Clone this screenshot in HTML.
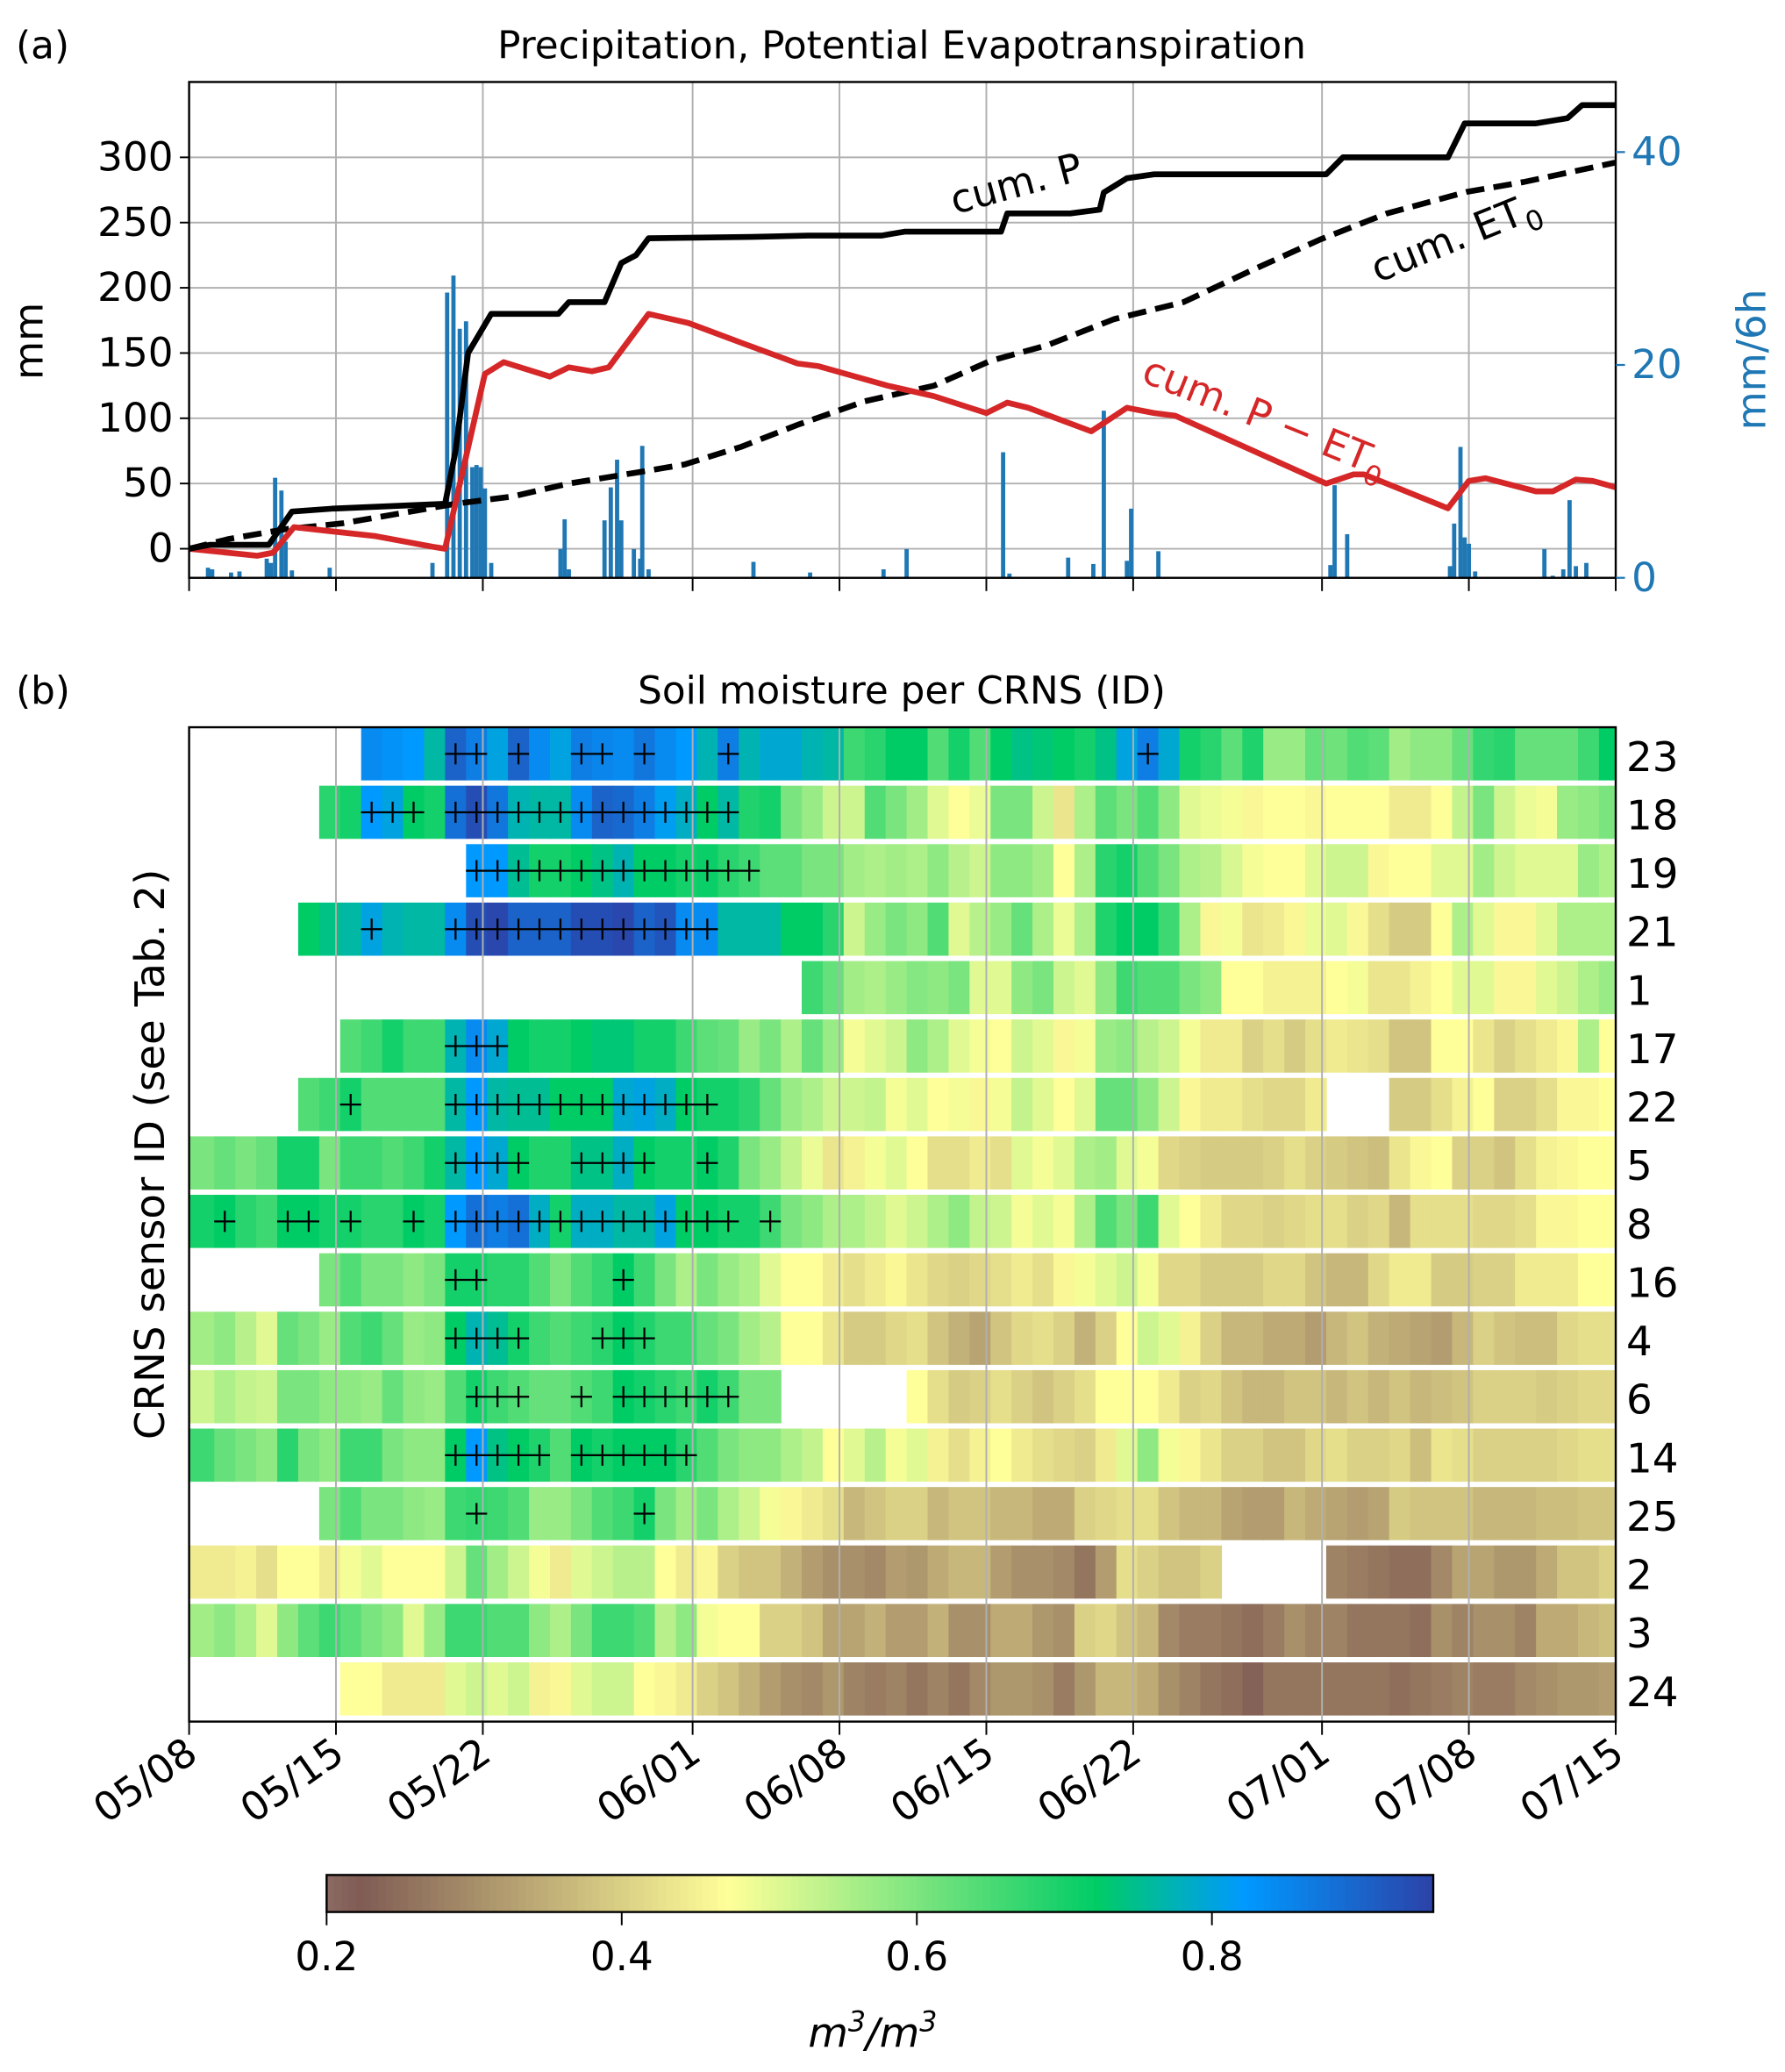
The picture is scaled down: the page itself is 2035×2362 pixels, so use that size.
<!DOCTYPE html>
<html><head><meta charset="utf-8"><style>
html,body{margin:0;padding:0;background:#fff}
svg{display:block;font-family:"DejaVu Sans","Liberation Sans",sans-serif}
</style></head><body>
<svg id="fig" width="2035" height="2362" viewBox="0 0 1350 1567" xmlns="http://www.w3.org/2000/svg">
<rect width="1350" height="1567" fill="#fff"/>
<g id="pa">
 <text x="12" y="44" font-size="29">(a)</text>
 <text x="682" y="44" font-size="29" text-anchor="middle">Precipitation, Potential Evapotranspiration</text>
 <g id="pagrid"></g><g id="pabars"></g><g id="palines"></g><g id="paaxes"></g>
 <text transform="translate(32,258) rotate(-90)" font-size="30" text-anchor="middle">mm</text>
 <text transform="translate(1335,272) rotate(-90)" font-size="30" fill="#1f77b4" text-anchor="middle">mm/6h</text>
 <text transform="translate(722,162) rotate(-15)" font-size="30">cum. P</text>
 <text transform="translate(1042,214) rotate(-22)" font-size="30">cum. ET<tspan font-size="21" dy="8">0</tspan></text>
 <text transform="translate(862,288) rotate(22)" font-size="30" fill="#d62728">cum. P − ET<tspan font-size="21" dy="8">0</tspan></text>
</g>
<g id="pb">
 <text x="12" y="532" font-size="29">(b)</text>
 <text x="682" y="532" font-size="29" text-anchor="middle">Soil moisture per CRNS (ID)</text>
 <text transform="translate(124,873) rotate(-90)" font-size="31" text-anchor="middle">CRNS sensor ID (see Tab. 2)</text>
 <g id="pbcells"></g><g id="pbgrid"></g><g id="pbcross"></g><g id="pbaxes"></g>
 <g id="cbar"></g>
 <text x="660" y="1548" font-size="31" font-style="italic" text-anchor="middle">m<tspan font-size="21" dy="-12">3</tspan><tspan dy="12">/m</tspan><tspan font-size="21" dy="-12">3</tspan></text>
</g>
</svg>
<script>
const dateLabels=["05/08","05/15","05/22","06/01","06/08","06/15","06/22","07/01","07/08","07/15"];
const dateDays=[0,7,14,24,31,38,45,54,61,68];
const mmTicks=[0,50,100,150,200,250,300];
const rateTicks=[0,20,40];
const cumPDays=[0,1,3.8,4.9,6.8,12.2,12.7,13.3,14.4,17.6,18.1,19.8,20.6,21.3,21.9,26.8,29.5,33,34.1,38.7,39,42,43.4,43.6,44.7,46,54.2,55,60,60.8,64.2,65.7,66.4,68];
const cumPVals=[0,3,3,28.5,30.7,34.5,75,150,180,180,189,189,219,225,238,239,240,240,243,243,257,257,260,273,284,287,287,300,300,326,326,330,340,340];
const et0Days=[0,1.9,4.6,7.3,10,12.7,15.4,18.1,21.4,23.6,26.3,29,32.2,35.5,38.2,40.9,44.1,47.4,50.6,53.9,57.1,60.9,63.6,68];
const et0Vals=[0,7.5,15,19.5,27,34.5,40,50,58.6,64.6,78,95,113,125,144,156,176,189,213,237,257,273.5,281,296];
const diffDays=[0,3.25,4,5,8.9,11.6,12.2,14.1,15,17.2,18.1,19.2,20,21.9,23.8,26.3,29,30,33.3,35.5,38,39,40,43,44.7,46,47,54.2,55.5,56,60,61,61.8,64.2,65,66.1,66.9,68];
const diffVals=[0,-5.4,-3,16.5,9.6,1.5,0,134,143,132,139,136,139,180,173,158,142,140,125,117,104,112,108,90,108,104,102,50,57,57,31,52,54,44,44,53,52,47];
const barDays=[0.9,1.1,2,2.4,3.7,3.9,4.1,4.4,4.6,4.9,6.7,11.6,12.3,12.6,12.9,13.2,13.5,13.7,13.9,14.1,14.4,17.7,17.9,18.1,19.8,20.1,20.4,20.6,21.2,21.5,21.6,21.9,26.9,29.6,33.1,34.2,38.8,39.1,41.9,43.1,43.6,44.7,44.9,46.2,54.4,54.6,55.2,60.1,60.3,60.6,60.8,61,61.3,64.6,65,65.5,65.8,66.1,66.6];
const barVals=[0.95,0.8,0.5,0.6,1.8,1.4,9.4,8.2,3.4,0.7,0.95,1.4,26.8,28.4,23.4,24.1,10.4,10.6,10.4,8.4,1.4,2.7,5.5,0.8,5.4,8.5,11.1,5.4,2.7,1.8,12.4,0.8,1.5,0.5,0.8,2.7,11.8,0.4,1.9,1.3,15.7,1.6,6.5,2.5,1.2,8.7,4.1,1.1,5.1,12.3,3.8,3.2,0.6,2.7,0.2,0.8,7.3,1.1,1.4];

const sensorIds=["23","18","19","21","1","17","22","5","8","16","4","6","14","25","2","3","24"];
const rowStart=[8,6,13,5,29,7,5,0,0,6,0,0,0,6,0,0,7];
const N=null;
const r23=[0.84,0.83,0.82,0.76,0.9,0.86,0.8,0.9,0.84,0.8,0.86,0.85,0.84,0.87,0.84,0.82,0.77,0.86,0.77,0.79,0.79,0.77,0.76,0.66,0.68,0.72,0.72,0.64,0.7,0.64,0.72,0.74,0.73,0.72,0.7,0.74,0.8,0.86,0.79,0.7,0.68,0.63,0.69,0.57,0.57,0.62,0.61,0.64,0.63,0.56,0.58,0.58,0.62,0.67,0.68,0.62,0.62,0.62,0.66,0.72];
const r18=[0.68,0.7,0.82,0.8,0.72,0.7,0.88,0.93,0.87,0.77,0.76,0.76,0.84,0.9,0.89,0.86,0.81,0.78,0.72,0.76,0.69,0.7,0.6,0.57,0.52,0.52,0.64,0.6,0.56,0.5,0.47,0.49,0.6,0.6,0.52,0.43,0.55,0.63,0.6,0.64,0.58,0.5,0.49,0.48,0.46,0.47,0.47,0.46,0.47,0.47,0.47,0.44,0.44,0.47,0.53,0.6,0.52,0.49,0.48,0.57,0.58,0.6];
const r19=[0.82,0.82,0.75,0.7,0.7,0.72,0.74,0.77,0.72,0.72,0.7,0.71,0.68,0.66,0.63,0.63,0.6,0.6,0.56,0.55,0.56,0.55,0.58,0.54,0.52,0.58,0.58,0.56,0.47,0.55,0.68,0.7,0.64,0.6,0.55,0.54,0.51,0.48,0.47,0.47,0.5,0.52,0.52,0.46,0.47,0.47,0.5,0.5,0.56,0.52,0.5,0.5,0.5,0.57,0.55];
const r21=[0.72,0.74,0.76,0.8,0.77,0.76,0.76,0.84,0.93,0.94,0.9,0.9,0.9,0.93,0.93,0.94,0.9,0.92,0.84,0.84,0.76,0.76,0.76,0.72,0.72,0.68,0.52,0.57,0.6,0.58,0.64,0.5,0.54,0.57,0.62,0.55,0.49,0.55,0.69,0.72,0.72,0.66,0.55,0.46,0.48,0.43,0.44,0.46,0.49,0.5,0.46,0.42,0.39,0.39,0.47,0.55,0.5,0.46,0.46,0.5,0.55,0.55,0.55];
const r1=[0.66,0.62,0.56,0.55,0.57,0.59,0.58,0.6,0.5,0.5,0.58,0.6,0.52,0.5,0.58,0.66,0.64,0.64,0.6,0.58,0.47,0.47,0.45,0.45,0.45,0.47,0.48,0.43,0.43,0.45,0.47,0.5,0.5,0.46,0.46,0.5,0.52,0.55,0.57];
const r17=[0.64,0.66,0.7,0.66,0.66,0.77,0.84,0.79,0.72,0.7,0.7,0.72,0.73,0.73,0.7,0.7,0.66,0.63,0.62,0.57,0.6,0.55,0.62,0.57,0.48,0.5,0.52,0.58,0.55,0.5,0.48,0.47,0.52,0.5,0.46,0.48,0.57,0.58,0.54,0.52,0.48,0.44,0.44,0.4,0.42,0.39,0.42,0.44,0.43,0.42,0.38,0.38,0.47,0.47,0.43,0.4,0.42,0.44,0.46,0.55,0.47];
const r22=[0.64,0.66,0.7,0.64,0.64,0.64,0.64,0.76,0.82,0.76,0.75,0.75,0.72,0.72,0.72,0.79,0.8,0.78,0.72,0.7,0.7,0.68,0.62,0.57,0.55,0.52,0.52,0.53,0.48,0.5,0.47,0.48,0.46,0.48,0.53,0.5,0.47,0.5,0.62,0.62,0.58,0.52,0.46,0.44,0.44,0.42,0.41,0.41,0.44,N,N,N,0.39,0.39,0.42,0.45,0.47,0.4,0.4,0.42,0.46,0.46,0.47];
const r5=[0.6,0.62,0.6,0.62,0.7,0.7,0.6,0.66,0.66,0.64,0.66,0.7,0.76,0.82,0.79,0.72,0.69,0.69,0.74,0.74,0.78,0.72,0.7,0.7,0.72,0.69,0.6,0.57,0.53,0.49,0.43,0.45,0.48,0.5,0.47,0.42,0.42,0.44,0.42,0.5,0.48,0.5,0.55,0.56,0.5,0.48,0.41,0.4,0.39,0.39,0.39,0.4,0.42,0.4,0.39,0.38,0.37,0.43,0.46,0.47,0.4,0.4,0.38,0.42,0.45,0.46,0.47,0.47];
const r8=[0.7,0.72,0.68,0.66,0.72,0.72,0.7,0.7,0.68,0.68,0.72,0.7,0.82,0.88,0.86,0.88,0.78,0.7,0.78,0.78,0.76,0.76,0.8,0.72,0.72,0.7,0.7,0.66,0.6,0.58,0.55,0.55,0.53,0.5,0.52,0.55,0.58,0.53,0.52,0.48,0.5,0.48,0.55,0.64,0.6,0.66,0.5,0.47,0.44,0.41,0.41,0.4,0.41,0.42,0.42,0.4,0.41,0.36,0.42,0.42,0.42,0.41,0.41,0.42,0.46,0.46,0.47,0.47];
const r16=[0.6,0.64,0.6,0.6,0.58,0.6,0.7,0.7,0.68,0.68,0.64,0.6,0.64,0.67,0.72,0.66,0.6,0.55,0.6,0.57,0.55,0.5,0.47,0.47,0.44,0.42,0.44,0.46,0.43,0.41,0.4,0.41,0.42,0.44,0.42,0.46,0.48,0.5,0.52,0.48,0.41,0.41,0.39,0.39,0.39,0.41,0.41,0.38,0.36,0.36,0.41,0.44,0.44,0.39,0.39,0.4,0.4,0.44,0.44,0.44,0.47,0.47];
const r4=[0.56,0.58,0.54,0.5,0.62,0.6,0.57,0.64,0.66,0.62,0.57,0.58,0.72,0.77,0.75,0.7,0.66,0.64,0.66,0.68,0.72,0.69,0.66,0.66,0.62,0.6,0.56,0.54,0.47,0.47,0.43,0.39,0.39,0.41,0.42,0.38,0.35,0.33,0.38,0.41,0.42,0.4,0.35,0.4,0.47,0.52,0.5,0.45,0.4,0.36,0.36,0.34,0.34,0.32,0.36,0.38,0.35,0.34,0.33,0.32,0.36,0.4,0.38,0.37,0.37,0.41,0.42,0.42];
const r6=[0.52,0.55,0.53,0.52,0.6,0.6,0.58,0.58,0.57,0.62,0.58,0.57,0.64,0.7,0.66,0.64,0.62,0.62,0.64,0.66,0.72,0.7,0.68,0.66,0.7,0.66,0.6,0.6,N,N,N,N,N,N,0.47,0.42,0.39,0.4,0.42,0.4,0.38,0.4,0.42,0.47,0.47,0.47,0.44,0.4,0.41,0.38,0.36,0.36,0.38,0.38,0.36,0.38,0.36,0.38,0.36,0.37,0.38,0.4,0.4,0.4,0.39,0.4,0.41,0.41];
const r14=[0.66,0.62,0.6,0.58,0.68,0.6,0.58,0.66,0.66,0.6,0.58,0.58,0.72,0.82,0.74,0.72,0.69,0.64,0.72,0.7,0.72,0.72,0.72,0.68,0.64,0.6,0.58,0.58,0.55,0.53,0.47,0.5,0.54,0.48,0.5,0.45,0.42,0.45,0.47,0.44,0.42,0.41,0.4,0.44,0.5,0.58,0.48,0.46,0.43,0.4,0.4,0.38,0.38,0.41,0.42,0.4,0.4,0.41,0.37,0.43,0.42,0.4,0.4,0.4,0.4,0.41,0.42,0.42];
const r25=[0.6,0.64,0.6,0.6,0.58,0.57,0.66,0.67,0.66,0.64,0.57,0.57,0.6,0.64,0.66,0.7,0.6,0.56,0.6,0.55,0.52,0.48,0.46,0.44,0.42,0.36,0.38,0.4,0.4,0.36,0.38,0.38,0.36,0.36,0.34,0.34,0.4,0.41,0.42,0.42,0.38,0.36,0.36,0.33,0.32,0.32,0.36,0.34,0.33,0.32,0.33,0.39,0.38,0.38,0.38,0.36,0.36,0.36,0.37,0.37,0.38,0.38];
const r2=[0.44,0.44,0.45,0.42,0.47,0.47,0.44,0.48,0.5,0.47,0.47,0.47,0.52,0.62,0.56,0.52,0.48,0.44,0.5,0.52,0.54,0.54,0.47,0.44,0.46,0.4,0.38,0.38,0.35,0.32,0.3,0.3,0.29,0.32,0.31,0.34,0.36,0.36,0.32,0.3,0.3,0.29,0.26,0.32,0.42,0.4,0.38,0.38,0.4,N,N,N,N,N,0.28,0.27,0.26,0.25,0.25,0.29,0.33,0.33,0.31,0.31,0.34,0.38,0.38,0.4];
const r3=[0.56,0.58,0.55,0.5,0.58,0.63,0.66,0.63,0.6,0.58,0.5,0.57,0.66,0.66,0.64,0.64,0.58,0.55,0.6,0.66,0.66,0.64,0.54,0.58,0.48,0.47,0.47,0.4,0.4,0.38,0.33,0.33,0.35,0.32,0.32,0.35,0.3,0.3,0.34,0.34,0.31,0.3,0.4,0.41,0.38,0.36,0.29,0.27,0.27,0.26,0.25,0.27,0.3,0.28,0.28,0.26,0.26,0.26,0.25,0.3,0.28,0.3,0.3,0.28,0.34,0.34,0.36,0.37];
const r24=[0.47,0.47,0.44,0.44,0.44,0.5,0.52,0.5,0.52,0.45,0.46,0.5,0.52,0.52,0.47,0.46,0.44,0.4,0.38,0.35,0.32,0.3,0.29,0.31,0.28,0.27,0.28,0.26,0.28,0.26,0.29,0.31,0.31,0.3,0.27,0.31,0.36,0.36,0.34,0.3,0.28,0.26,0.25,0.23,0.26,0.26,0.26,0.26,0.26,0.26,0.25,0.26,0.27,0.28,0.27,0.27,0.29,0.3,0.31,0.31,0.32];
const rowVals=[r23,r18,r19,r21,r1,r17,r22,r5,r8,r16,r4,r6,r14,r25,r2,r3,r24];
const crossDays=[[12,13,15,18,19,21,25,45],[8,9,10,12,13,14,15,16,17,18,19,20,21,22,23,24,25],[13,14,15,16,17,18,19,20,21,22,23,24,25,26],[8,12,13,14,15,16,17,18,19,20,21,22,23,24],[],[12,13,14],[7,12,13,14,15,16,17,18,19,20,21,22,23,24],[12,13,14,15,18,19,20,21,24],[1,4,5,7,10,12,13,14,15,16,17,18,19,20,21,22,23,24,25,27],[12,13,20],[12,13,14,15,19,20,21],[13,14,15,18,20,21,22,23,24,25],[12,13,14,15,16,18,19,20,21,22,23],[13,21],[],[],[]];
const cbTicks=[0.2,0.4,0.6,0.8];

const NS="http://www.w3.org/2000/svg";
function mk(tag,attrs,parent){const e=document.createElementNS(NS,tag);for(const k in attrs)e.setAttribute(k,attrs[k]);parent.appendChild(e);return e;}
const X0=143,X1=1222;
const xs=d=>X0+(X1-X0)*d/68;
const yL=v=>415-v*0.9867;
const yR=v=>437-v*8.05;
const ga=document.getElementById('pagrid');
dateDays.forEach(d=>{const l=mk('line',{x1:xs(d),x2:xs(d),y1:62,y2:437,stroke:'#b0b0b0','stroke-width':1.3},ga);

});
mmTicks.forEach(v=>{const l=mk('line',{x1:X0,x2:X1,y1:yL(v),y2:yL(v),stroke:'#b0b0b0','stroke-width':1.3},ga);

});
const gb=document.getElementById('pabars');
barDays.forEach((d,i)=>{const r=mk('rect',{x:xs(d)-1.6,y:yR(barVals[i]),width:3.2,height:437-yR(barVals[i]),fill:'#1f77b4'},gb);

});
const gl=document.getElementById('palines');
function pl(ds,vs,col,dash,name){let p=ds.map((d,i)=>xs(d).toFixed(1)+','+yL(vs[i]).toFixed(1)).join(' ');
const e=mk('polyline',{points:p,fill:'none',stroke:col,'stroke-width':4.4,'stroke-linejoin':'round'},gl);if(dash)e.setAttribute('stroke-dasharray',dash);

}
pl(et0Days,et0Vals,'#000','14,7','cum-et0-line');
pl(diffDays,diffVals,'#d62728',null,'cum-p-minus-et0-line');
pl(cumPDays,cumPVals,'#000',null,'cum-p-line');
const gx=document.getElementById('paaxes');
mk('rect',{x:X0,y:62,width:X1-X0,height:375,fill:'none',stroke:'#000','stroke-width':1.6},gx);
mmTicks.forEach(v=>{mk('line',{x1:X0-7,x2:X0,y1:yL(v),y2:yL(v),stroke:'#000','stroke-width':1.3},gx);
const t=mk('text',{x:X0-12,y:yL(v)+10,'font-size':30,'text-anchor':'end'},gx);t.textContent=v;

});
rateTicks.forEach(v=>{mk('line',{x1:X1,x2:X1+7,y1:yR(v),y2:yR(v),stroke:'#1f77b4','stroke-width':1.5},gx);
const t=mk('text',{x:X1+12,y:yR(v)+10,'font-size':30,fill:'#1f77b4'},gx);t.textContent=v;

});
dateDays.forEach(d=>mk('line',{x1:xs(d),x2:xs(d),y1:437,y2:447,stroke:'#000','stroke-width':1.3},gx));
const stops=[[0,[0.2,0.2,0.6]],[0.15,[0,0.6,1]],[0.25,[0,0.8,0.4]],[0.5,[1,1,0.6]],[0.75,[0.5,0.36,0.33]],[1,[1,1,1]]];
function cmap(v){let s=1-(v+0.03);s=Math.max(0,Math.min(1,s));for(let i=0;i<stops.length-1;i++){const a=stops[i],b=stops[i+1];if(s<=b[0]){const f=(s-a[0])/(b[0]-a[0]);const c=a[1].map((x,j)=>Math.round(255*(x+(b[1][j]-x)*f)));return `rgb(${c})`;}}return '#fff';}
const RT=550,RH=44.2,off=0.2;
const gc=document.getElementById('pbcells');
rowVals.forEach((vals,ri)=>{vals.forEach((v,k)=>{if(v===null)return;const d=rowStart[ri]+k;
let x0=d===0?xs(0):xs(d+off),x1=xs(Math.min(68,d+1+off));
const r=mk('rect',{x:x0,y:RT+ri*RH,width:x1-x0+0.5,height:RH-4,fill:cmap(v)},gc);

});});
const gg=document.getElementById('pbgrid');
dateDays.forEach(d=>{const l=mk('line',{x1:xs(d),x2:xs(d),y1:550,y2:1302,stroke:'#b0b0b0','stroke-width':1.3},gg);

});
const gcr=document.getElementById('pbcross');
crossDays.forEach((arr,ri)=>arr.forEach(d=>{const cx=xs(d+0.5+off),cy=RT+ri*RH+(RH-4)/2;
const p=mk('path',{d:`M${cx-8},${cy}H${cx+8}M${cx},${cy-8}V${cy+8}`,stroke:'#000','stroke-width':1.5},gcr);

}));
const gbx=document.getElementById('pbaxes');
mk('rect',{x:X0,y:550,width:X1-X0,height:752,fill:'none',stroke:'#000','stroke-width':1.6},gbx);
sensorIds.forEach((s,ri)=>{const t=mk('text',{x:X1+8,y:RT+ri*RH+33,'font-size':31},gbx);t.textContent=s;

});
dateDays.forEach((d,i)=>{mk('line',{x1:xs(d),x2:xs(d),y1:1302,y2:1312,stroke:'#000','stroke-width':1.3},gbx);
const t=mk('text',{transform:`translate(${xs(d)+8},${1330}) rotate(-35)`,'font-size':30,'text-anchor':'end'},gbx);t.textContent=dateLabels[i];

});
const cb=document.getElementById('cbar');const CX0=247,CX1=1084,cv0=0.2,cv1=0.95;
const cbx=v=>CX0+(CX1-CX0)*(v-cv0)/(cv1-cv0);
for(let i=0;i<150;i++){const v=cv0+(cv1-cv0)*i/150;mk('rect',{x:cbx(v),y:1418,width:(CX1-CX0)/150+0.6,height:28,fill:cmap(v)},cb);}
const cbo=mk('rect',{x:CX0,y:1418,width:CX1-CX0,height:28,fill:'none',stroke:'#000','stroke-width':1.6},cb);


cbTicks.forEach(v=>{mk('line',{x1:cbx(v),x2:cbx(v),y1:1446,y2:1456,stroke:'#000','stroke-width':1.3},cb);
const t=mk('text',{x:cbx(v),y:1490,'font-size':30,'text-anchor':'middle'},cb);t.textContent=v.toFixed(1);

});
</script>
</body></html>
